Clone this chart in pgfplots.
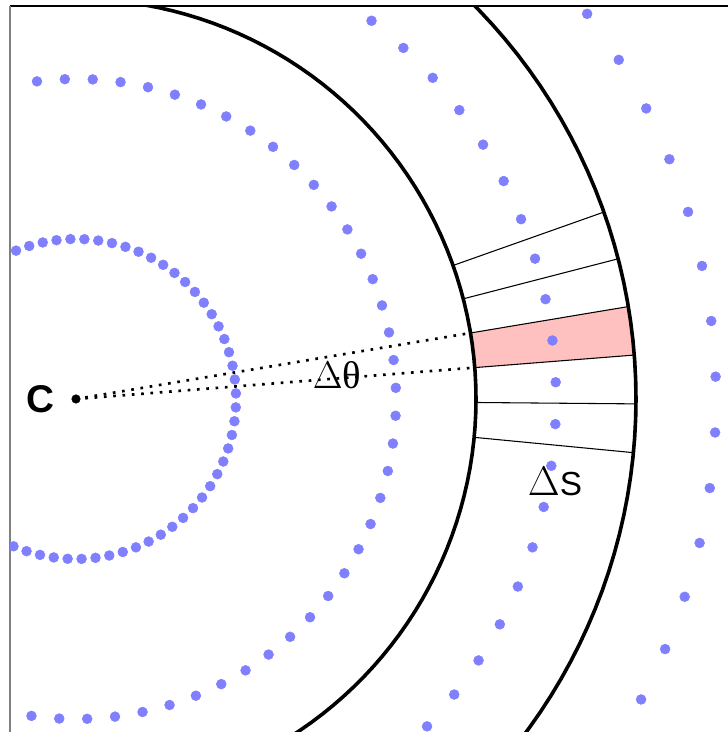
\documentclass[border=0pt]{standalone}
\usepackage{fix-cm}
\usepackage{pgfplots}
\pgfplotsset{compat=1.18}
\usepackage{fontspec}
\setmainfont{Liberation Serif}
\newfontfamily\sansf{Liberation Sans}
\definecolor{dotblue}{RGB}{128,128,255}
\definecolor{pinkfill}{RGB}{255,192,192}
\begin{document}
\begin{tikzpicture}
\begin{axis}[
  x=0.75pt, y=0.75pt,
  xmin=-66, xmax=652, ymin=-333, ymax=393,
  axis x line*=top, axis y line*=left,
  x axis line style={-, black, line width=0.8pt},
  y axis line style={-, gray, line width=0.9pt},
  xtick=\empty, ytick=\empty,
  clip marker paths=true,
]
% pink sector
\addplot[fill=pinkfill, draw=none, data cs=polar] coordinates {(4.5,400) (4.5,560) (5.5,560) (6.5,560) (7.5,560) (8.5,560) (9.5,560) (9.5,400) (8.5,400) (7.5,400) (6.5,400) (5.5,400)};
% radial lines
\addplot[black, line width=0.8pt, data cs=polar] coordinates {(-5.5,400) (-5.5,560)};
\addplot[black, line width=0.8pt, data cs=polar] coordinates {(-0.5,400) (-0.5,560)};
\addplot[black, line width=0.8pt, data cs=polar] coordinates {(4.5,400) (4.5,560)};
\addplot[black, line width=0.8pt, data cs=polar] coordinates {(9.5,400) (9.5,560)};
\addplot[black, line width=0.8pt, data cs=polar] coordinates {(14.5,400) (14.5,560)};
\addplot[black, line width=0.8pt, data cs=polar] coordinates {(19.5,400) (19.5,560)};
% arcs
\addplot[black, line width=2.7pt, data cs=polar] coordinates {(-60,400) (-58,400) (-56,400) (-54,400) (-52,400) (-50,400) (-48,400) (-46,400) (-44,400) (-42,400) (-40,400) (-38,400) (-36,400) (-34,400) (-32,400) (-30,400) (-28,400) (-26,400) (-24,400) (-22,400) (-20,400) (-18,400) (-16,400) (-14,400) (-12,400) (-10,400) (-8,400) (-6,400) (-4,400) (-2,400) (0,400) (2,400) (4,400) (6,400) (8,400) (10,400) (12,400) (14,400) (16,400) (18,400) (20,400) (22,400) (24,400) (26,400) (28,400) (30,400) (32,400) (34,400) (36,400) (38,400) (40,400) (42,400) (44,400) (46,400) (48,400) (50,400) (52,400) (54,400) (56,400) (58,400) (60,400) (62,400) (64,400) (66,400) (68,400) (70,400) (72,400) (74,400) (76,400) (78,400) (80,400) (82,400)};
\addplot[black, line width=2.7pt, data cs=polar] coordinates {(-40,560) (-38,560) (-36,560) (-34,560) (-32,560) (-30,560) (-28,560) (-26,560) (-24,560) (-22,560) (-20,560) (-18,560) (-16,560) (-14,560) (-12,560) (-10,560) (-8,560) (-6,560) (-4,560) (-2,560) (0,560) (2,560) (4,560) (6,560) (8,560) (10,560) (12,560) (14,560) (16,560) (18,560) (20,560) (22,560) (24,560) (26,560) (28,560) (30,560) (32,560) (34,560) (36,560) (38,560) (40,560) (42,560) (44,560) (46,560)};
% dotted lines
\addplot[black, line width=2pt, dash pattern=on 2pt off 5pt, data cs=polar] coordinates {(0,0) (4.5,400)};
\addplot[black, line width=2pt, dash pattern=on 2pt off 5pt, data cs=polar] coordinates {(0,0) (9.5,400)};
% dot circles
\addplot[only marks, mark=*, mark size=3.7pt, dotblue, data cs=polar] coordinates {(2,160) (7,160) (12,160) (17,160) (22,160) (27,160) (32,160) (37,160) (42,160) (47,160) (52,160) (57,160) (62,160) (67,160) (72,160) (77,160) (82,160) (87,160) (92,160) (97,160) (102,160) (107,160) (112,160) (117,160) (122,160) (127,160) (132,160) (137,160) (142,160) (147,160) (152,160) (157,160) (162,160) (167,160) (172,160) (177,160) (182,160) (187,160) (192,160) (197,160) (202,160) (207,160) (212,160) (217,160) (222,160) (227,160) (232,160) (237,160) (242,160) (247,160) (252,160) (257,160) (262,160) (267,160) (272,160) (277,160) (282,160) (287,160) (292,160) (297,160) (302,160) (307,160) (312,160) (317,160) (322,160) (327,160) (332,160) (337,160) (342,160) (347,160) (352,160) (357,160)};
\addplot[only marks, mark=*, mark size=3.7pt, dotblue, data cs=polar] coordinates {(2,320) (7,320) (12,320) (17,320) (22,320) (27,320) (32,320) (37,320) (42,320) (47,320) (52,320) (57,320) (62,320) (67,320) (72,320) (77,320) (82,320) (87,320) (92,320) (97,320) (102,320) (107,320) (112,320) (247,320) (252,320) (257,320) (262,320) (267,320) (272,320) (277,320) (282,320) (287,320) (292,320) (297,320) (302,320) (307,320) (312,320) (317,320) (322,320) (327,320) (332,320) (337,320) (342,320) (347,320) (352,320) (357,320)};
\addplot[only marks, mark=*, mark size=3.7pt, dotblue, data cs=polar] coordinates {(-48,480) (-43,480) (-38,480) (-33,480) (-28,480) (-23,480) (-18,480) (-13,480) (-8,480) (-3,480) (2,480) (7,480) (12,480) (17,480) (22,480) (27,480) (32,480) (37,480) (42,480) (47,480) (52,480) (57,480)};
\addplot[only marks, mark=*, mark size=3.7pt, dotblue, data cs=polar] coordinates {(-33,640) (-28,640) (-23,640) (-18,640) (-13,640) (-8,640) (-3,640) (2,640) (7,640) (12,640) (17,640) (22,640) (27,640) (32,640) (37,640) (42,640)};
% center point
\addplot[only marks, mark=*, mark size=3.2pt, black] coordinates {(0,0)};
\node at (axis cs:-36,0) {\fontsize{29}{34}\selectfont\sansf\bfseries C};
\node at (axis cs:261,24) {\fontsize{29}{34}\selectfont $\Delta$θ};
\node at (axis cs:479,-83) {\fontsize{31}{36}\selectfont $\Delta$\fontsize{25}{30}\selectfont\sansf S};
\coordinate (TL) at (axis cs:-76,399);
\coordinate (BR) at (axis cs:652,-333);
\end{axis}
\pgfresetboundingbox
\path[use as bounding box] (TL) rectangle (BR);
\end{tikzpicture}
\end{document}
